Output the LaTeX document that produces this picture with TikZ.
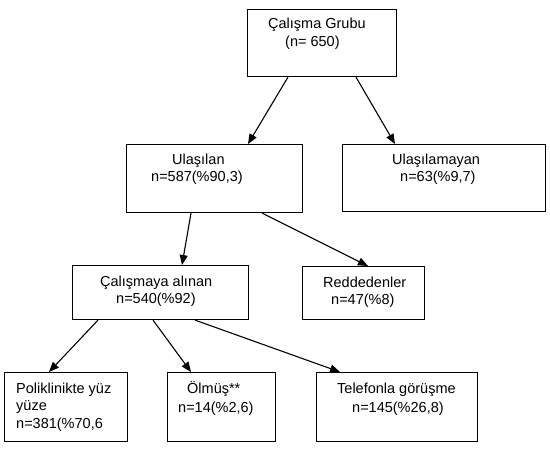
\documentclass[tikz,border=0pt]{standalone}
\usepackage{fontspec}
\setmainfont{Liberation Sans}
\usetikzlibrary{arrows.meta}
\begin{document}
\begin{tikzpicture}[x=1pt,y=-1pt,
  box/.style={draw=black,line width=1.1pt,inner sep=0pt,anchor=north west,fill=none},
  lbl/.style={anchor=base west,inner sep=0pt,font=\fontsize{14.5}{17}\selectfont},
  arr/.style={draw=black,line width=1.1pt,-{Triangle[length=10pt,width=8pt]}}]
\useasboundingbox (0,0) rectangle (550,453);
% boxes
\node[box,minimum width=149pt,minimum height=67pt] (top) at (247,9) {};
\node[box,minimum width=176pt,minimum height=68pt] (ul) at (126,144) {};
\node[box,minimum width=203pt,minimum height=67pt] (ula) at (342,144) {};
\node[box,minimum width=176pt,minimum height=54pt] (cal) at (72,265) {};
\node[box,minimum width=122pt,minimum height=53pt] (red) at (302,266) {};
\node[box,minimum width=123pt,minimum height=69pt] (pol) at (4,372) {};
\node[box,minimum width=108pt,minimum height=69pt] (olm) at (167,372) {};
\node[box,minimum width=161pt,minimum height=69pt] (tel) at (316,372) {};
% texts
\node[lbl] (t1) at (268,28) {Çalışma Grubu};
\node[lbl] (t2) at (285,46) {(n= 650)};
\node[lbl] (u1) at (172,164) {Ulaşılan};
\node[lbl] (u2) at (151,181) {n=587(\%90,3)};
\node[lbl] (a1) at (392,164) {Ulaşılamayan};
\node[lbl] (a2) at (400,181) {n=63(\%9,7)};
\node[lbl] (c1) at (100,286) {Çalışmaya alınan};
\node[lbl] (c2) at (116,303) {n=540(\%92)};
\node[lbl] (r1) at (323,287) {Reddedenler};
\node[lbl] (r2) at (331,304) {n=47(\%8)};
\node[lbl] (p1) at (16,393) {Poliklinikte yüz};
\node[lbl] (p2) at (16,410.5) {yüze};
\node[lbl] (p3) at (16,428) {n=381(\%70,6};
\node[lbl] (o1) at (187,393) {Ölmüş**};
\node[lbl] (o2) at (178,412) {n=14(\%2,6)};
\node[lbl] (e1) at (337,393) {Telefonla görüşme};
\node[lbl] (e2) at (352,412) {n=145(\%26,8)};
% connectors
\draw[arr] ([xshift=41pt]top.south west) -- ([xshift=122pt]ul.north west);
\draw[arr] ([xshift=109pt]top.south west) -- ([xshift=53pt]ula.north west);
\draw[arr] ([xshift=65pt]ul.south west) -- ([xshift=110pt]cal.north west);
\draw[arr] ([xshift=136pt]ul.south west) -- ([xshift=66pt]red.north west);
\draw[arr] ([xshift=26pt]cal.south west) -- ([xshift=45pt]pol.north west);
\draw[arr] ([xshift=81pt]cal.south west) -- ([xshift=24pt]olm.north west);
\draw[arr] ([xshift=123pt]cal.south west) -- ([xshift=24pt]tel.north west);
\end{tikzpicture}
\end{document}
